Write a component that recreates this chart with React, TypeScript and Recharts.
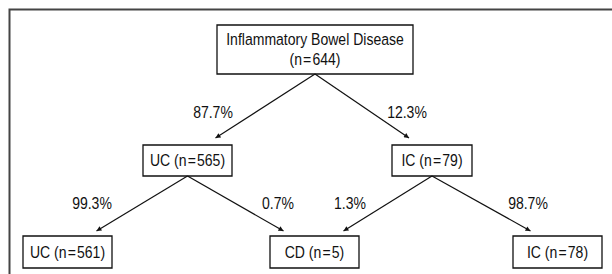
import React from 'react';
import {
  ScatterChart,
  Scatter,
  XAxis,
  YAxis,
  ReferenceArea,
  ReferenceLine,
} from 'recharts';

// --- data ---
const nodeNames = ['Inflammatory Bowel Disease', 'UC', 'IC', 'UC', 'CD', 'IC'];
const nodeCounts = [644, 565, 79, 561, 5, 78];
const edgeFrom = [0, 0, 1, 1, 2, 2];
const edgeTo = [1, 2, 3, 4, 4, 5];
const edgePercents = ['87.7%', '12.3%', '99.3%', '0.7%', '1.3%', '98.7%'];

// --- layout (chart units, 1 unit = 1px) ---
const boxLeft = [217, 143, 392, 23, 270, 513];
const boxRight = [413, 232, 472, 112, 359, 602];
const boxTop = [25, 145, 145, 236, 236, 236];
const boxBottom = [74, 176, 176, 268, 268, 268];
const tipOffset = [28, 23, 29, 31, 29, 27];
const tipGap = [7, 7, 5, 5, 5, 5];
const pctX = [213, 407, 92, 278, 350, 528];
const pctY = [112, 112, 203, 203, 203, 203];

const W = 612;
const H = 274;
// condensed look: Arial-metric sans squeezed horizontally
const FONT = "'Liberation Sans', Arial, sans-serif";
const FONT_SIZE = 16.5;
const SQUEEZE = 0.85;
const INK = '#111';

const cx = (i: number) => (boxLeft[i] + boxRight[i]) / 2;
const cy = (i: number) => (boxTop[i] + boxBottom[i]) / 2;

const nodeData = nodeNames.map((name, i) => ({
  x: cx(i),
  y: cy(i),
  lines: i === 0
    ? [name, `(n\u200a=\u200a${nodeCounts[i]})`]
    : [`${name} (n\u200a=\u200a${nodeCounts[i]})`],
}));

const edgeData = edgeFrom.map((f, k) => {
  const t = edgeTo[k];
  const dir = cx(f) < cx(t) ? -1 : 1;
  return {
    x1: cx(f),
    y1: boxBottom[f],
    x2: cx(t) + dir * tipOffset[k],
    y2: boxTop[t] - tipGap[k],
  };
});

const pctData = edgePercents.map((p, k) => ({ x: pctX[k], y: pctY[k], text: p }));

const Narrow = ({ x, y, children }: { x: number; y: number; children: React.ReactNode }) => (
  <text
    transform={`translate(${x},${y}) scale(${SQUEEZE},1)`}
    x={0}
    y={0}
    textAnchor="middle"
    dominantBaseline="central"
    fontFamily={FONT}
    fontSize={FONT_SIZE}
    fill={INK}
  >
    {children}
  </text>
);

const NodeText = (props: any) => {
  const { cx: x, cy: y, payload } = props;
  const lines: string[] = payload.lines;
  const step = 20;
  const start = y - ((lines.length - 1) * step) / 2;
  return (
    <g>
      {lines.map((l, i) => (
        <Narrow key={i} x={x} y={start + i * step}>
          {l}
        </Narrow>
      ))}
    </g>
  );
};

const PctText = (props: any) => (
  <Narrow x={props.cx} y={props.cy}>
    {props.payload.text}
  </Narrow>
);

export default function App() {
  return (
    <div style={{ position: 'absolute', left: 0, top: 0, width: W, height: H, overflow: 'hidden', background: '#fff' }}>
      <ScatterChart width={W} height={H} margin={{ top: 0, right: 0, bottom: 0, left: 0 }}>
        <defs>
          <marker
            id="arrow"
            viewBox="0 0 10 10"
            refX="10"
            refY="5"
            markerWidth="6"
            markerHeight="5"
            markerUnits="userSpaceOnUse"
            orient="auto"
          >
            <path d="M0,0 L10,5 L0,10 z" fill={INK} />
          </marker>
        </defs>
        <XAxis type="number" dataKey="x" domain={[0, W]} allowDataOverflow hide />
        <YAxis type="number" dataKey="y" domain={[0, H]} allowDataOverflow reversed hide />

        {/* outer frame, cut off at right and bottom */}
        <ReferenceArea
          x1={9.5}
          x2={W + 30}
          y1={9.5}
          y2={H + 30}
          ifOverflow="visible"
          fill="none"
          stroke="#444"
          strokeWidth={2}
        />

        {nodeNames.map((_, i) => (
          <ReferenceArea
            key={`box-${i}`}
            x1={boxLeft[i]}
            x2={boxRight[i]}
            y1={boxTop[i]}
            y2={boxBottom[i]}
            ifOverflow="visible"
            fill="none"
            stroke={INK}
            strokeWidth={1.3}
          />
        ))}

        {edgeData.map((e, k) => (
          <ReferenceLine
            key={`edge-${k}`}
            segment={[{ x: e.x1, y: e.y1 }, { x: e.x2, y: e.y2 }]}
            ifOverflow="visible"
            stroke={INK}
            strokeWidth={1.2}
            markerEnd="url(#arrow)"
          />
        ))}

        <Scatter data={nodeData} shape={NodeText} isAnimationActive={false} />
        <Scatter data={pctData} shape={PctText} isAnimationActive={false} />
      </ScatterChart>
    </div>
  );
}
